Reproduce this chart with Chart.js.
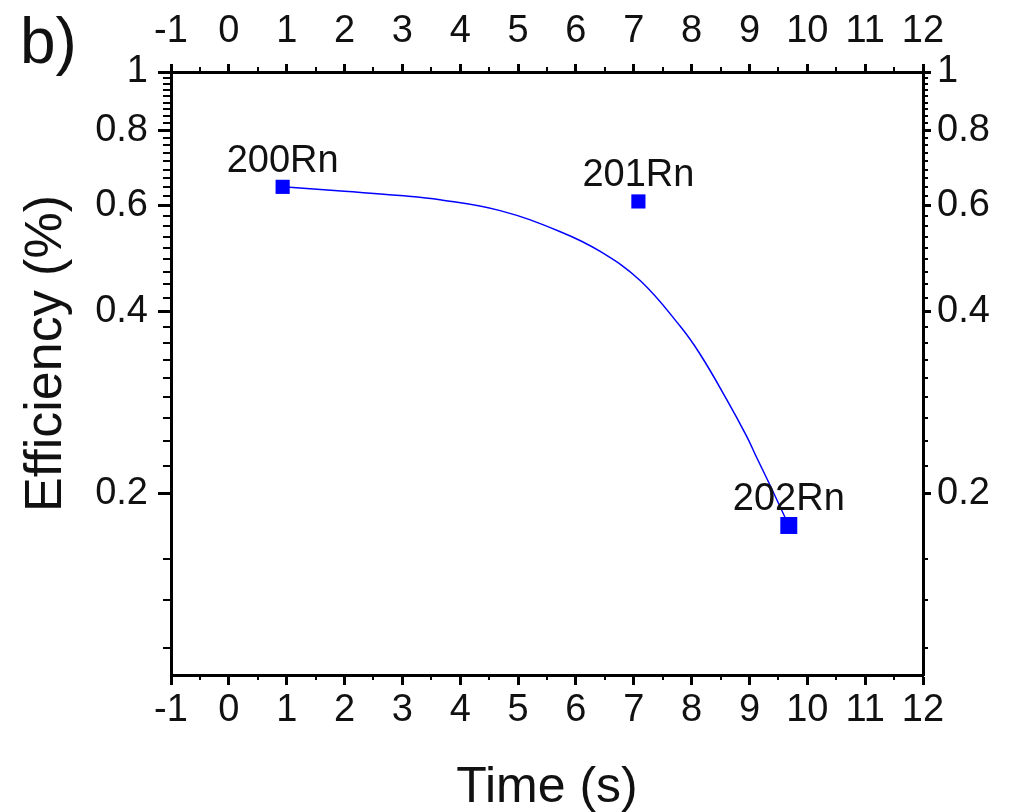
<!DOCTYPE html>
<html>
<head>
<meta charset="utf-8">
<script src="https://cdn.jsdelivr.net/npm/chart.js@4.4.1/dist/chart.umd.min.js"></script>
<style>
  html, body { margin: 0; padding: 0; background: #fff; }
  #chart { display: block; }
</style>
</head>
<body>
<canvas id="chart" width="1013" height="812"></canvas>
<script>
// isotopes (squares)
const isoLabels = ["200Rn", "201Rn", "202Rn"];
const isoTime = [0.93, 7.08, 9.68];
const isoEff = [0.645, 0.610, 0.177];

// fitted curve
const fitTime = [0.93, 2.0, 2.96, 3.65, 4.69, 5.72, 6.42, 7.11, 7.8, 8.15, 8.61, 8.95, 9.11, 9.35, 9.68];
const fitEff = [0.645, 0.634, 0.624, 0.614, 0.589, 0.544, 0.504, 0.451, 0.379, 0.340, 0.286, 0.249, 0.231, 0.207, 0.177];

// axes
const xMin = -1, xMax = 12;
const yMin = 0.1, yMax = 1;
const yMajorTicks = [0.2, 0.4, 0.6, 0.8, 1];
const xTitle = "Time (s)";
const yTitle = "Efficiency (%)";
const panelLabel = "b)";

const FONT = "'Liberation Sans', Arial, sans-serif";
const BLUE = "#0000ff";

// minor tick values
const xMinor = [];
for (let v = xMin + 0.5; v < xMax; v += 1) xMinor.push(v);
const yMinor = [0.111, 0.133, 0.156];
for (let i = 1; i < yMajorTicks.length; i++) {
  const a = yMajorTicks[i - 1], b = yMajorTicks[i];
  for (let k = 1; k < 9; k++) yMinor.push(a + (b - a) * k / 9);
}

const minorTicks = {
  id: "minorTicks",
  afterDraw(chart) {
    const { ctx, chartArea: ca, scales } = chart;
    ctx.save();
    ctx.strokeStyle = "#000";
    ctx.lineWidth = 2;
    ctx.beginPath();
    xMinor.forEach(v => {
      const px = Math.round(scales.x.getPixelForValue(v));
      ctx.moveTo(px, ca.bottom); ctx.lineTo(px, ca.bottom + 5);
      ctx.moveTo(px, ca.top); ctx.lineTo(px, ca.top - 5);
    });
    yMinor.forEach(v => {
      const py = Math.round(scales.y.getPixelForValue(v));
      ctx.moveTo(ca.left, py); ctx.lineTo(ca.left - 8, py);
      ctx.moveTo(ca.right, py); ctx.lineTo(ca.right + 5, py);
    });
    ctx.stroke();
    ctx.restore();
  }
};

const extraText = {
  id: "extraText",
  afterDatasetsDraw(chart) {
    const ctx = chart.ctx;
    const ca = chart.chartArea;
    ctx.save();
    ctx.fillStyle = "#111";
    ctx.font = "38px " + FONT;
    ctx.textAlign = "center";
    ctx.textBaseline = "alphabetic";
    const meta = chart.getDatasetMeta(1);
    meta.data.forEach((pt, i) => {
      ctx.fillText(isoLabels[i], pt.x, pt.y - 15);
    });

    ctx.font = "64px " + FONT;
    ctx.textAlign = "left";
    ctx.fillText(panelLabel, 20, 63);

    // y title, a bit above the middle of the axis as in the figure
    ctx.font = "52px " + FONT;
    ctx.textAlign = "center";
    ctx.textBaseline = "middle";
    ctx.translate(47, (ca.top + ca.bottom) / 2 - 20);
    ctx.rotate(-Math.PI / 2);
    ctx.fillText(yTitle, 0, 0);
    ctx.restore();
  }
};

function fixWidth(w) { return scale => { scale.width = w; }; }
function fixHeight(h) { return scale => { scale.height = h; }; }

const tickFont = { family: FONT, size: 38 };

function xAxis(pos, len, h, pad) {
  return {
    type: "linear",
    position: pos,
    min: xMin,
    max: xMax,
    afterFit: fixHeight(h),
    border: { display: true, color: "#000", width: 3 },
    grid: { drawOnChartArea: false, drawTicks: true, tickLength: len, tickWidth: 3, tickColor: "#000" },
    ticks: { stepSize: 1, autoSkip: false, maxRotation: 0, color: "#111", font: tickFont, padding: pad }
  };
}

function yAxis(pos, len, w, pad) {
  return {
    type: "logarithmic",
    position: pos,
    min: yMin,
    max: yMax,
    afterFit: fixWidth(w),
    afterBuildTicks: scale => { scale.ticks = yMajorTicks.map(v => ({ value: v })); },
    border: { display: true, color: "#000", width: 3 },
    grid: { drawOnChartArea: false, drawTicks: true, tickLength: len, tickWidth: 3, tickColor: "#000" },
    ticks: { autoSkip: false, color: "#111", font: tickFont, padding: pad, callback: v => String(v) }
  };
}

const scales = {
  x: xAxis("bottom", 10, 137, 3),
  x2: xAxis("top", 8, 72, 10),
  y: yAxis("left", 13, 171, 10),
  y2: yAxis("right", 8, 90, 6)
};
scales.x.title = { display: true, text: xTitle, color: "#111", font: { family: FONT, size: 50 }, padding: { top: 0, bottom: -6 } };

new Chart(document.getElementById("chart"), {
  type: "line",
  data: {
    datasets: [
      {
        label: "fit",
        data: fitTime.map((t, i) => ({ x: t, y: fitEff[i] })),
        borderColor: BLUE,
        borderWidth: 1.5,
        pointRadius: 0,
        tension: 0.4,
        fill: false,
        xAxisID: "x",
        yAxisID: "y"
      },
      {
        label: "isotopes",
        data: isoTime.map((t, i) => ({ x: t, y: isoEff[i] })),
        showLine: false,
        pointStyle: "rect",
        pointRadius: [10, 10, 12],
        backgroundColor: BLUE,
        borderColor: BLUE,
        borderWidth: 0,
        xAxisID: "x",
        yAxisID: "y"
      }
    ]
  },
  options: {
    responsive: false,
    animation: false,
    layout: { padding: 0 },
    plugins: { legend: { display: false }, tooltip: { enabled: false } },
    scales: scales
  },
  plugins: [minorTicks, extraText]
});
</script>
</body>
</html>
